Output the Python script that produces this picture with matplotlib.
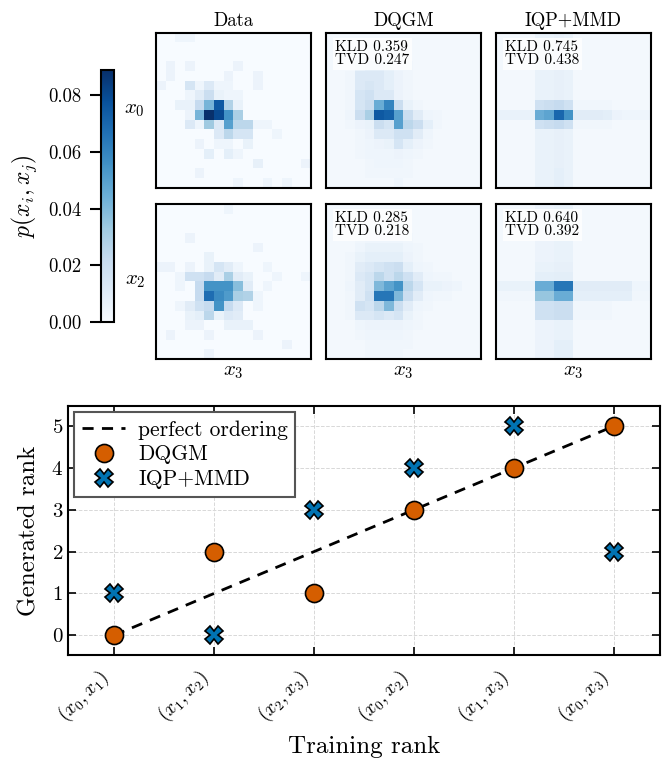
import numpy as np
import matplotlib
matplotlib.use("Agg")
import matplotlib.pyplot as plt

plt.rcParams["font.family"] = "cmr10"
plt.rcParams["mathtext.fontset"] = "cm"
plt.rcParams["axes.formatter.use_mathtext"] = True
plt.rcParams["axes.unicode_minus"] = False

# ------------------------------------------------------------
# pairwise marginals p(x_i, x_j) on a 16x16 grid, in units of 1e-3
# rows top -> bottom
# ------------------------------------------------------------
data_x0 = [
    [0, 0, 4, 4, 0, 0, 0, 0, 0, 0, 0, 0, 0, 0, 0, 0],
    [0, 0, 0, 0, 0, 0, 0, 0, 0, 0, 0, 0, 0, 0, 0, 0],
    [0, 0, 0, 0, 0, 0, 0, 0, 0, 0, 0, 0, 0, 0, 0, 0],
    [0, 5, 0, 5, 0, 0, 0, 0, 5, 0, 0, 0, 0, 0, 0, 0],
    [0, 5, 0, 0, 0, 0, 0, 5, 0, 0, 5, 0, 0, 0, 0, 0],
    [5, 0, 0, 15, 4, 12, 4, 4, 0, 0, 5, 0, 0, 0, 0, 0],
    [0, 0, 0, 4, 10, 20, 6, 4, 4, 0, 0, 0, 0, 0, 0, 0],
    [0, 0, 6, 6, 22, 42, 75, 28, 6, 0, 0, 0, 0, 0, 0, 0],
    [0, 0, 0, 5, 42, 89, 80, 55, 30, 0, 0, 0, 0, 0, 0, 0],
    [0, 0, 0, 12, 4, 33, 12, 50, 25, 25, 4, 4, 0, 0, 0, 0],
    [0, 0, 0, 0, 0, 0, 12, 25, 15, 15, 0, 0, 4, 0, 0, 0],
    [0, 0, 0, 0, 5, 0, 4, 4, 0, 6, 0, 0, 0, 0, 0, 0],
    [0, 0, 0, 0, 0, 8, 0, 8, 4, 0, 0, 0, 0, 0, 0, 0],
    [0, 0, 0, 0, 0, 0, 0, 0, 0, 0, 7, 0, 0, 0, 0, 5],
    [0, 0, 0, 0, 5, 0, 0, 0, 0, 0, 0, 0, 0, 0, 0, 0],
    [0, 0, 0, 0, 0, 0, 0, 0, 4, 0, 0, 4, 0, 4, 0, 0],
]
dqgm_x0 = [
    [2, 2, 2, 2, 2, 2, 2, 2, 2, 2, 2, 2, 2, 2, 2, 2],
    [2, 2, 2, 2, 3, 3, 3, 2, 2, 2, 2, 2, 2, 2, 2, 2],
    [2, 2, 2, 3, 4, 4, 4, 3, 2, 2, 2, 2, 2, 2, 2, 2],
    [2, 2, 2, 6, 8, 8, 6, 4, 3, 2, 2, 2, 2, 2, 2, 2],
    [2, 2, 3, 12, 12, 12, 8, 5, 3, 2, 2, 2, 2, 2, 2, 2],
    [2, 2, 3, 12, 14, 12, 8, 5, 3, 2, 2, 2, 2, 2, 2, 2],
    [2, 2, 3, 15, 18, 12, 12, 5, 3, 2, 2, 2, 2, 2, 2, 2],
    [2, 2, 3, 15, 20, 45, 60, 20, 6, 3, 2, 2, 2, 2, 2, 2],
    [2, 2, 4, 20, 30, 75, 72, 50, 20, 10, 4, 3, 2, 2, 2, 2],
    [2, 2, 3, 5, 6, 20, 15, 50, 25, 20, 8, 3, 2, 2, 2, 2],
    [2, 2, 2, 3, 5, 12, 12, 18, 18, 10, 4, 2, 2, 2, 2, 2],
    [2, 2, 2, 3, 4, 5, 6, 15, 8, 5, 3, 2, 2, 2, 2, 2],
    [2, 2, 2, 3, 4, 4, 4, 5, 4, 3, 2, 2, 2, 2, 2, 2],
    [2, 2, 2, 2, 3, 4, 4, 4, 3, 2, 2, 2, 2, 2, 2, 2],
    [2, 2, 2, 2, 3, 3, 3, 3, 3, 2, 2, 2, 2, 2, 2, 2],
    [2, 2, 2, 2, 2, 2, 2, 4, 2, 2, 2, 2, 2, 2, 2, 2],
]
iqp_x0 = [
    [2, 2, 2, 2, 6, 6, 7, 6, 2, 2, 2, 2, 2, 2, 2, 2],
    [2, 2, 2, 2, 6, 6, 7, 6, 2, 2, 2, 2, 2, 2, 2, 2],
    [2, 2, 2, 2, 6, 6, 7, 6, 2, 2, 2, 2, 2, 2, 2, 2],
    [2, 2, 2, 2, 6, 6, 7, 6, 2, 2, 2, 2, 2, 2, 2, 2],
    [2, 2, 2, 2, 6, 6, 7, 6, 2, 2, 2, 2, 2, 2, 2, 2],
    [2, 2, 2, 2, 6, 6, 7, 6, 2, 2, 2, 2, 2, 2, 2, 2],
    [2, 2, 2, 2, 6, 6, 7, 6, 2, 2, 2, 2, 2, 2, 2, 2],
    [2, 2, 2, 2, 18, 20, 22, 18, 3, 3, 3, 3, 2, 2, 2, 2],
    [6, 6, 6, 6, 45, 48, 70, 55, 10, 10, 10, 9, 5, 4, 4, 4],
    [2, 2, 2, 2, 18, 20, 22, 18, 3, 3, 3, 3, 2, 2, 2, 2],
    [2, 2, 2, 2, 6, 6, 7, 6, 2, 2, 2, 2, 2, 2, 2, 2],
    [2, 2, 2, 2, 6, 6, 7, 6, 2, 2, 2, 2, 2, 2, 2, 2],
    [2, 2, 2, 2, 6, 6, 7, 6, 2, 2, 2, 2, 2, 2, 2, 2],
    [2, 2, 2, 2, 6, 6, 7, 6, 2, 2, 2, 2, 2, 2, 2, 2],
    [2, 2, 2, 2, 6, 6, 8, 6, 2, 2, 2, 2, 2, 2, 2, 2],
    [2, 2, 2, 2, 6, 6, 8, 6, 2, 2, 2, 2, 2, 2, 2, 2],
]
data_x2 = [
    [0, 0, 0, 0, 0, 0, 0, 4, 0, 0, 0, 0, 0, 0, 0, 0],
    [0, 0, 0, 0, 0, 0, 0, 0, 0, 0, 0, 0, 0, 0, 0, 0],
    [0, 0, 0, 0, 0, 0, 0, 0, 0, 0, 0, 0, 0, 0, 0, 0],
    [0, 0, 0, 5, 0, 0, 0, 0, 0, 0, 0, 0, 0, 0, 0, 0],
    [0, 0, 0, 0, 0, 0, 0, 0, 0, 0, 5, 0, 0, 0, 0, 0],
    [0, 0, 0, 0, 0, 6, 0, 0, 0, 0, 0, 0, 0, 0, 0, 0],
    [5, 5, 0, 5, 0, 6, 15, 10, 4, 0, 0, 4, 0, 0, 0, 0],
    [0, 0, 4, 18, 18, 22, 10, 30, 10, 6, 0, 0, 4, 0, 0, 4],
    [0, 0, 4, 0, 22, 55, 55, 55, 38, 10, 0, 4, 0, 0, 0, 0],
    [0, 0, 0, 0, 22, 68, 58, 52, 30, 28, 4, 0, 0, 0, 0, 0],
    [0, 0, 4, 10, 18, 22, 55, 22, 12, 0, 4, 0, 0, 0, 0, 0],
    [0, 0, 0, 6, 8, 25, 6, 12, 10, 0, 0, 0, 0, 0, 0, 0],
    [0, 0, 0, 5, 5, 0, 0, 6, 6, 6, 0, 0, 0, 0, 0, 0],
    [0, 5, 0, 0, 0, 5, 0, 0, 0, 0, 5, 0, 0, 0, 0, 0],
    [0, 0, 0, 0, 0, 0, 0, 0, 0, 0, 0, 0, 0, 5, 0, 0],
    [0, 0, 0, 0, 0, 5, 0, 0, 0, 0, 0, 0, 0, 0, 0, 0],
]
dqgm_x2 = [
    [2, 2, 2, 2, 2, 2, 2, 2, 2, 2, 2, 2, 2, 2, 2, 2],
    [2, 2, 2, 2, 2, 2, 2, 2, 2, 2, 2, 2, 2, 2, 2, 2],
    [2, 2, 2, 2, 3, 3, 3, 3, 2, 2, 2, 2, 2, 2, 2, 2],
    [2, 2, 2, 3, 4, 4, 4, 4, 3, 2, 2, 2, 2, 2, 2, 2],
    [2, 2, 2, 4, 6, 6, 6, 6, 4, 3, 2, 2, 2, 2, 2, 2],
    [2, 2, 3, 6, 8, 8, 8, 8, 5, 3, 2, 2, 2, 2, 2, 2],
    [2, 2, 3, 10, 12, 15, 18, 20, 8, 4, 3, 2, 2, 2, 2, 2],
    [2, 2, 3, 12, 15, 25, 18, 25, 18, 10, 4, 3, 3, 2, 2, 2],
    [2, 2, 4, 10, 15, 40, 48, 55, 25, 15, 6, 6, 5, 4, 2, 2],
    [2, 2, 3, 10, 18, 65, 65, 40, 20, 10, 4, 3, 3, 2, 2, 2],
    [2, 2, 3, 18, 15, 25, 40, 20, 10, 4, 3, 2, 2, 2, 2, 2],
    [2, 2, 3, 12, 12, 15, 12, 15, 6, 3, 2, 2, 2, 2, 2, 2],
    [2, 2, 2, 4, 5, 5, 5, 5, 4, 3, 2, 2, 2, 2, 2, 2],
    [2, 2, 2, 3, 4, 4, 4, 4, 3, 2, 2, 2, 2, 2, 2, 2],
    [2, 2, 2, 2, 3, 3, 3, 3, 3, 2, 2, 2, 2, 2, 2, 2],
    [2, 2, 2, 2, 3, 3, 3, 3, 2, 2, 2, 2, 2, 2, 2, 2],
]
iqp_x2 = [
    [2, 2, 2, 2, 5, 5, 6, 6, 2, 2, 2, 2, 2, 2, 2, 2],
    [2, 2, 2, 2, 5, 5, 6, 6, 2, 2, 2, 2, 2, 2, 2, 2],
    [2, 2, 2, 2, 5, 5, 6, 6, 2, 2, 2, 2, 2, 2, 2, 2],
    [2, 2, 2, 2, 5, 5, 6, 6, 2, 2, 2, 2, 2, 2, 2, 2],
    [2, 2, 2, 2, 5, 5, 6, 6, 2, 2, 2, 2, 2, 2, 2, 2],
    [2, 2, 2, 2, 5, 5, 6, 6, 2, 2, 2, 2, 2, 2, 2, 2],
    [2, 2, 2, 2, 6, 6, 7, 7, 2, 2, 2, 2, 2, 2, 2, 2],
    [2, 2, 2, 2, 8, 8, 9, 9, 2, 2, 2, 2, 2, 2, 2, 2],
    [6, 6, 6, 6, 45, 45, 65, 65, 10, 10, 10, 10, 10, 10, 4, 4],
    [3, 3, 3, 3, 35, 35, 45, 45, 8, 8, 8, 8, 8, 8, 3, 3],
    [2, 2, 2, 2, 18, 18, 20, 20, 3, 3, 3, 3, 2, 2, 2, 2],
    [2, 2, 2, 2, 18, 18, 20, 20, 3, 3, 3, 3, 2, 2, 2, 2],
    [2, 2, 2, 2, 5, 5, 6, 6, 2, 2, 2, 2, 2, 2, 2, 2],
    [2, 2, 2, 2, 5, 5, 6, 6, 2, 2, 2, 2, 2, 2, 2, 2],
    [2, 2, 2, 2, 5, 5, 8, 8, 2, 2, 2, 2, 2, 2, 2, 2],
    [2, 2, 2, 2, 5, 5, 8, 8, 2, 2, 2, 2, 2, 2, 2, 2],
]

models = ["Data", "DQGM", "IQP+MMD"]
row_vars = ["$x_0$", "$x_2$"]
col_var = "$x_3$"
kld = {("DQGM", 0): 0.359, ("IQP+MMD", 0): 0.745,
       ("DQGM", 1): 0.285, ("IQP+MMD", 1): 0.640}
tvd = {("DQGM", 0): 0.247, ("IQP+MMD", 0): 0.438,
       ("DQGM", 1): 0.218, ("IQP+MMD", 1): 0.392}

# rank comparison
pair_labels = ["$(x_0, x_1)$", "$(x_1, x_2)$", "$(x_2, x_3)$",
               "$(x_0, x_2)$", "$(x_1, x_3)$", "$(x_0, x_3)$"]
training_rank = [0, 1, 2, 3, 4, 5]
dqgm_rank = [0, 2, 1, 3, 4, 5]
iqp_rank = [1, 0, 3, 4, 5, 2]

grids = [[data_x0, dqgm_x0, iqp_x0], [data_x2, dqgm_x2, iqp_x2]]
vmax = max(np.max(g) for row in grids for g in row) / 1000.0

fig = plt.figure(figsize=(6.7, 7.62), dpi=100)

W, H = 670.0, 762.0
col_left = [156, 326, 496]
row_top = [33, 204]
size_px = 155.0

im = None
for r in range(2):
    for c in range(3):
        left = col_left[c] / W
        bottom = 1 - (row_top[r] + size_px) / H
        ax = fig.add_axes([left, bottom, size_px / W, size_px / H])
        arr = np.array(grids[r][c], dtype=float) / 1000.0
        im = ax.imshow(arr, cmap="Blues", vmin=0, vmax=vmax,
                       aspect="auto", interpolation="nearest")
        ax.set_xticks([])
        ax.set_yticks([])
        for sp in ax.spines.values():
            sp.set_linewidth(1.5)
        if r == 0:
            ax.set_title(models[c], fontsize=13.5, pad=5)
        else:
            ax.set_xlabel(col_var, fontsize=15, labelpad=3)
        if c == 0:
            ax.text(-0.07, 0.5, row_vars[r], transform=ax.transAxes,
                    ha="right", va="center", fontsize=15)
        if models[c] != "Data":
            key = (models[c], r)
            ax.text(0.06, 0.955, f"KLD {kld[key]:.3f}\nTVD {tvd[key]:.3f}",
                    transform=ax.transAxes, ha="left", va="top",
                    fontsize=11, linespacing=1.0,
                    bbox=dict(facecolor="white", edgecolor="none",
                              alpha=0.8, pad=1.5))

cax = fig.add_axes([101 / W, 1 - 322 / H, 13 / W, 252 / H])
cb = fig.colorbar(im, cax=cax, ticks=[0, 0.02, 0.04, 0.06, 0.08])
cb.outline.set_linewidth(1.5)
cax.yaxis.set_ticks_position("left")
cax.yaxis.set_label_position("left")
cax.set_yticklabels([f"{t:.2f}" for t in [0, 0.02, 0.04, 0.06, 0.08]])
cax.tick_params(labelsize=13.5, length=8, width=1.5, pad=6)
cb.set_label("$p(x_i, x_j)$", fontsize=17, labelpad=7)

# --- rank comparison panel ---
ax = fig.add_axes([68 / W, 1 - 655 / H, 592 / W, 249 / H])
ax.plot(training_rank, training_rank, "--", color="black", lw=2,
        dashes=(4, 3), label="perfect ordering", zorder=2)
ax.plot(training_rank, dqgm_rank, "o", color="#d55e00", markersize=13,
        markeredgecolor="black", markeredgewidth=1.2, label="DQGM", zorder=3)
ax.plot(training_rank, iqp_rank, "X", color="#0173b2", markersize=12.5,
        markeredgecolor="black", markeredgewidth=1.2, label="IQP+MMD", zorder=3)

ax.set_xlim(-0.46, 5.46)
ax.set_ylim(-0.47, 5.48)
ax.set_xticks(training_rank)
ax.set_xticklabels(pair_labels, rotation=45, ha="right", fontsize=14)
ax.set_yticks(range(6))
ax.tick_params(axis="y", labelsize=15)
ax.tick_params(direction="in", top=True, right=True, length=6, width=1.2)
ax.tick_params(axis="x", pad=8)
ax.grid(True, color="#d8d8d8", linestyle="--", linewidth=0.7)
for sp in ax.spines.values():
    sp.set_linewidth(1.5)
ax.set_xlabel("Training rank", fontsize=18, labelpad=6)
ax.set_ylabel("Generated rank", fontsize=18, labelpad=8)
leg = ax.legend(loc="upper left", fontsize=15.5, fancybox=False,
                framealpha=1, edgecolor="#555555", borderaxespad=0.3,
                handlelength=2.0, labelspacing=0.25, borderpad=0.35,
                handletextpad=0.6)
leg.get_frame().set_linewidth(1.5)

fig.savefig("out.png", dpi=100)
